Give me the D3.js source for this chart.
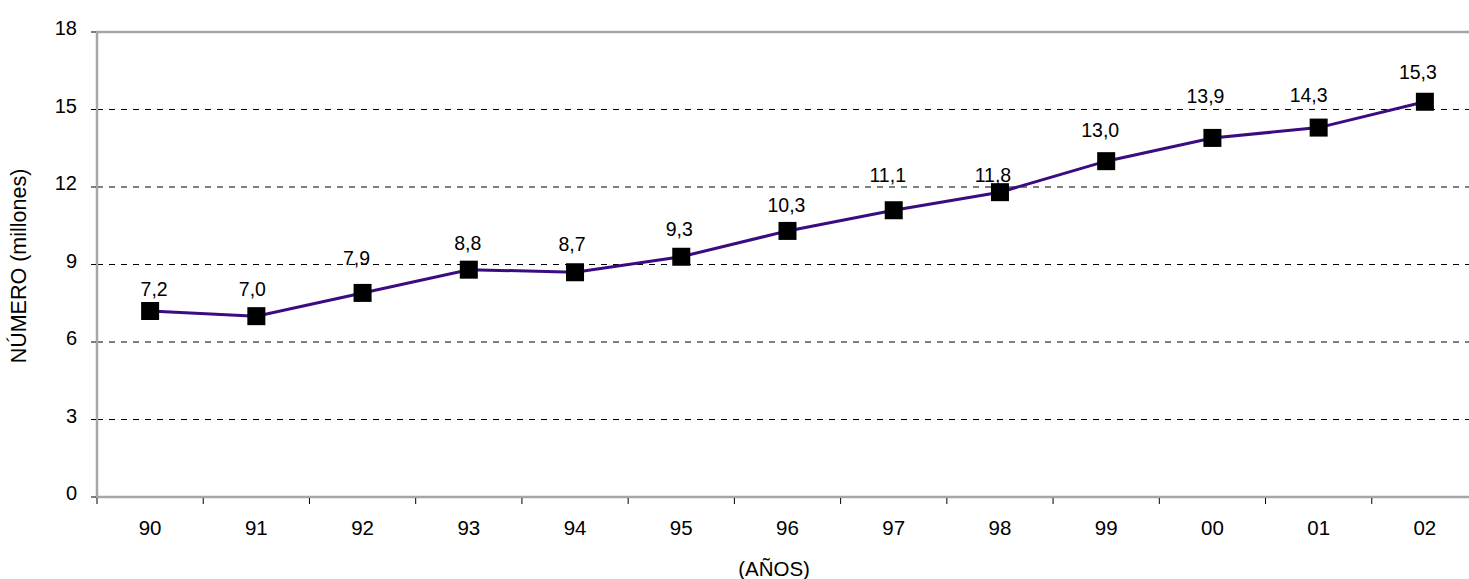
<!DOCTYPE html>
<html><head><meta charset="utf-8">
<script src="https://cdn.jsdelivr.net/npm/d3@7"></script>
<style>body{margin:0;background:#fff}svg{display:block}text{font-family:"Liberation Sans",Arial,sans-serif}</style>
</head><body>
<svg id="c" width="1469" height="579"></svg>
<script>
const years = ["90","91","92","93","94","95","96","97","98","99","00","01","02"];
const values = [7.2,7.0,7.9,8.8,8.7,9.3,10.3,11.1,11.8,13.0,13.9,14.3,15.3];
const valueLabels = ["7,2","7,0","7,9","8,8","8,7","9,3","10,3","11,1","11,8","13,0","13,9","14,3","15,3"];
const yTicks = [0,3,6,9,12,15,18];
// label placement offsets (pixels) relative to each marker
const labelDx = [4,-4,-6,-1,-3,-2,-1,-6,-7,-6,-7,-10,-7];
const labelDy = [-22,-27,-35,-26,-28,-28,-26,-35,-17,-31,-42,-32,-30];

const svg = d3.select("#c");
const L = 97, R = 1478, T = 32, B = 497;
const x = d3.scaleBand().domain(years).range([L, R]);
const y = d3.scaleLinear().domain([0,18]).range([B, T]);

// gridlines
svg.append("g").selectAll("line").data(yTicks.filter(d=>d>0 && d<18)).join("line")
  .attr("x1", L).attr("x2", 1469).attr("y1", d=>y(d)).attr("y2", d=>y(d))
  .attr("stroke","#000").attr("stroke-width",1).attr("stroke-dasharray","6,6");

// frame (top, left, bottom)
svg.append("path").attr("d",`M1469,${T}H${L}V${B}H1469`).attr("fill","none")
  .attr("stroke","#a6a6a6").attr("stroke-width",2.5);

// y axis ticks and labels
const ya = svg.append("g");
ya.selectAll("line").data(yTicks).join("line")
  .attr("x1", L-6).attr("x2", L-1).attr("y1", d=>y(d)).attr("y2", d=>y(d))
  .attr("stroke","#000").attr("stroke-width",1);
ya.selectAll("text").data(yTicks).join("text")
  .attr("x", 77).attr("y", d=>y(d)+3).attr("text-anchor","end")
  .attr("font-size",20).attr("fill","#000").text(d=>d);

// x axis ticks and labels
const xa = svg.append("g");
const edges = years.map(d=>x(d)).concat([x(years[years.length-1])+x.bandwidth()]);
xa.selectAll("line").data(edges.filter(e=>e<=1469)).join("line")
  .attr("x1", d=>d).attr("x2", d=>d).attr("y1", B+1).attr("y2", B+7)
  .attr("stroke","#000").attr("stroke-width",1);
xa.selectAll("text").data(years).join("text")
  .attr("x", d=>x(d)+x.bandwidth()/2).attr("y", 535).attr("text-anchor","middle")
  .attr("font-size",20.5).attr("fill","#000").text(d=>d);

// axis titles
svg.append("text").attr("transform","translate(26,266) rotate(-90)")
  .attr("text-anchor","middle").attr("font-size",21.5).text("NÚMERO (millones)");
svg.append("text").attr("x",774).attr("y",576).attr("text-anchor","middle")
  .attr("font-size",20.5).text("(AÑOS)");

// line
const cx = (d,i)=>x(years[i])+x.bandwidth()/2;
svg.append("path").datum(values)
  .attr("d", d3.line().x(cx).y(d=>y(d)))
  .attr("fill","none").attr("stroke","#3a0c80").attr("stroke-width",3);

// markers
const s = 18;
svg.append("g").selectAll("rect").data(values).join("rect")
  .attr("x",(d,i)=>cx(d,i)-s/2).attr("y",d=>y(d)-s/2).attr("width",s).attr("height",s)
  .attr("fill","#000");

// value labels
svg.append("g").selectAll("text").data(values).join("text")
  .attr("x",(d,i)=>cx(d,i)+labelDx[i]).attr("y",(d,i)=>y(d)+labelDy[i]).attr("dy","0.35em")
  .attr("text-anchor","middle").attr("font-size",19.5).attr("fill","#000")
  .text((d,i)=>valueLabels[i]);
</script>
</body></html>
